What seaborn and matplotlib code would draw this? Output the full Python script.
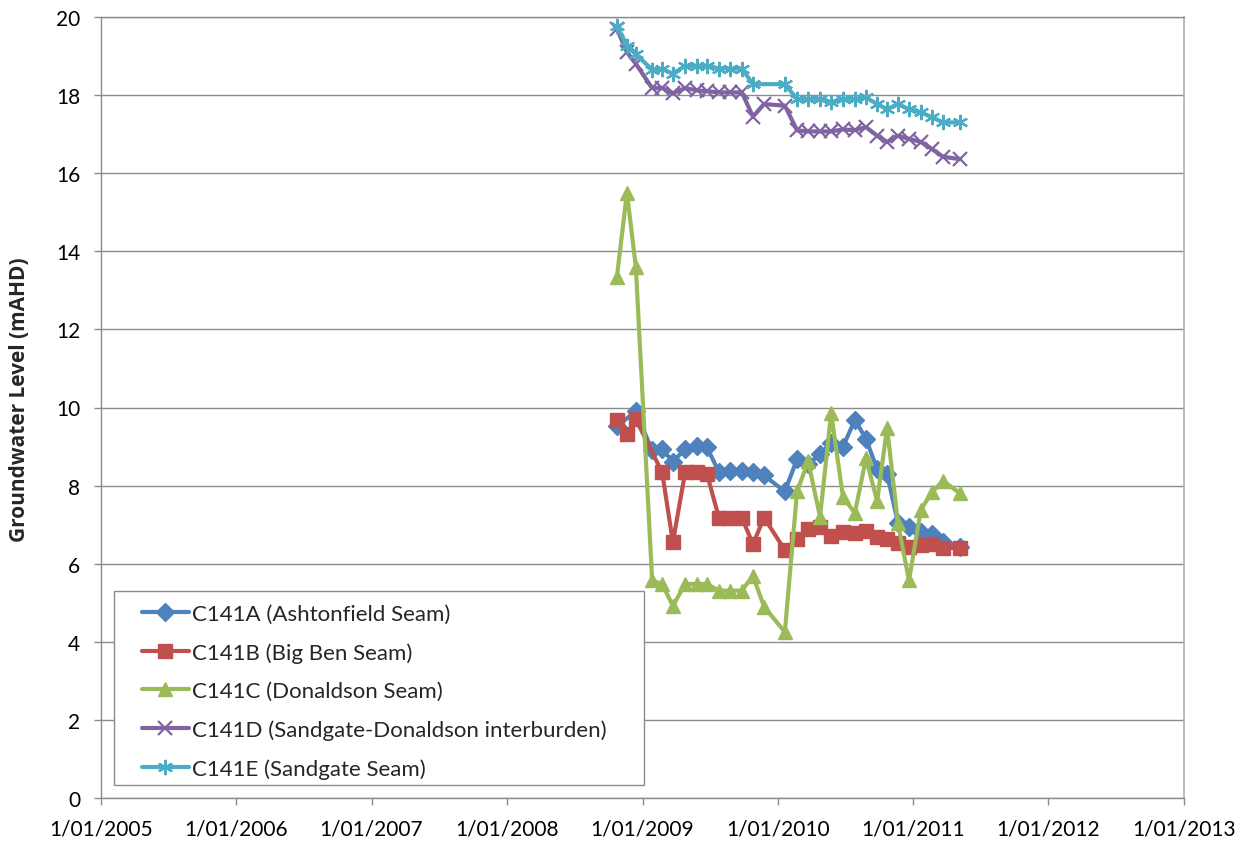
import matplotlib
matplotlib.use("Agg")
import matplotlib.pyplot as plt
from matplotlib.patches import Rectangle
import numpy as np
import pandas as pd
import seaborn as sns

# Sampling dates (roughly monthly monitoring rounds)
dates_all = ["2008-10-24", "2008-11-20", "2008-12-14", "2009-01-27", "2009-02-23",
             "2009-03-24", "2009-04-26", "2009-05-28", "2009-06-24", "2009-07-26",
             "2009-08-25", "2009-09-26", "2009-10-26", "2009-11-25", "2010-01-20",
             "2010-02-22", "2010-03-24", "2010-04-25", "2010-05-25", "2010-06-26",
             "2010-07-28", "2010-08-27", "2010-09-26", "2010-10-23", "2010-11-21",
             "2010-12-21", "2011-01-22", "2011-02-21", "2011-03-23", "2011-05-08"]

dates_a = [d for i, d in enumerate(dates_all) if i != 1]
dates_b = [d for i, d in enumerate(dates_all) if i != 3]
dates_c = dates_all
dates_d = dates_all
dates_e = [d for i, d in enumerate(dates_all) if i != 13]

level_a = [9.52, 9.90, 8.90, 8.95, 8.60, 8.95, 9.02, 8.98, 8.35, 8.38, 8.38, 8.34,
           8.26, 7.85, 8.68, 8.55, 8.80, 9.10, 9.00, 9.68, 9.20, 8.42, 8.30, 7.05,
           6.93, 6.80, 6.75, 6.55, 6.42]
level_b = [9.68, 9.32, 9.70, 8.34, 6.55, 8.34, 8.34, 8.30, 7.18, 7.18, 7.18, 6.50,
           7.18, 6.35, 6.63, 6.90, 6.93, 6.70, 6.82, 6.78, 6.85, 6.68, 6.62, 6.53,
           6.42, 6.47, 6.50, 6.40, 6.40]
level_c = [13.35, 15.50, 13.60, 5.57, 5.48, 4.92, 5.48, 5.48, 5.48, 5.31, 5.31, 5.31,
           5.69, 4.90, 4.25, 7.85, 8.62, 7.20, 9.85, 7.70, 7.30, 8.70, 7.60, 9.48,
           7.05, 5.57, 7.38, 7.83, 8.12, 7.80]
level_d = [19.70, 19.10, 18.80, 18.18, 18.18, 18.05, 18.18, 18.12, 18.10, 18.07, 18.07,
           18.07, 17.45, 17.77, 17.73, 17.10, 17.07, 17.07, 17.07, 17.12, 17.10, 17.18,
           16.96, 16.80, 16.96, 16.88, 16.80, 16.62, 16.42, 16.36]
level_e = [19.77, 19.27, 19.05, 18.65, 18.67, 18.55, 18.75, 18.75, 18.75, 18.68, 18.68,
           18.68, 18.28, 18.28, 17.90, 17.90, 17.90, 17.82, 17.90, 17.90, 17.94, 17.77,
           17.64, 17.77, 17.64, 17.56, 17.43, 17.30, 17.30]

series_names = ["C141A (Ashtonfield Seam)", "C141B (Big Ben Seam)",
                "C141C (Donaldson Seam)", "C141D (Sandgate-Donaldson interburden)",
                "C141E (Sandgate Seam)"]
series_dates = [dates_a, dates_b, dates_c, dates_d, dates_e]
series_levels = [level_a, level_b, level_c, level_d, level_e]

year_ticks = ["2005-01-01", "2006-01-01", "2007-01-01", "2008-01-01", "2009-01-01",
              "2010-01-01", "2011-01-01", "2012-01-01", "2013-01-01"]
year_labels = ["1/01/2005", "1/01/2006", "1/01/2007", "1/01/2008", "1/01/2009",
               "1/01/2010", "1/01/2011", "1/01/2012", "1/01/2013"]
y_ticks = [0, 2, 4, 6, 8, 10, 12, 14, 16, 18, 20]

colors = ["#4F81BD", "#C0504D", "#9BBB59", "#8064A2", "#4BACC6"]
markers = ["D", "s", "^", "x", (6, 2, 0)]
msizes = [9.5, 9.5, 10.5, 9.5, 11]
medge = [1, 1, 1, 1.6, 1.6]

sns.set_theme(style="white")
plt.rcParams["font.family"] = ["Lato", "DejaVu Sans"]

fig = plt.figure(figsize=(12.47, 8.45), dpi=100)
ax = fig.add_axes([101 / 1247, 1 - 799 / 845, (1184 - 101) / 1247, (799 - 18) / 845])

frames = []
for name, d, v in zip(series_names, series_dates, series_levels):
    frames.append(pd.DataFrame({"date": pd.to_datetime(d), "level": v, "well": name}))
df = pd.concat(frames, ignore_index=True)

for name, col, mk, ms, mew in zip(series_names, colors, markers, msizes, medge):
    sub = df[df["well"] == name]
    sns.lineplot(data=sub, x="date", y="level", ax=ax, color=col, lw=3.0,
                 marker=mk, markersize=ms, markeredgecolor=col, markerfacecolor=col,
                 markeredgewidth=mew, label=name, sort=False, estimator=None)

ax.set_xlim(pd.Timestamp(year_ticks[0]), pd.Timestamp(year_ticks[-1]))
ax.set_ylim(0, 20)
ax.set_xticks(pd.to_datetime(year_ticks))
ax.set_xticklabels(year_labels)
ax.set_yticks(y_ticks)
ax.set_yticklabels([str(t) for t in y_ticks])

grid_col = "#8c8c8c"
ax.yaxis.grid(True, color=grid_col, lw=1.0)
ax.xaxis.grid(False)
ax.set_axisbelow(True)
for s in ["left", "bottom", "top"]:
    ax.spines[s].set_color(grid_col)
    ax.spines[s].set_linewidth(1.0)
ax.spines["right"].set_color("#b0b0b0")
ax.spines["right"].set_linewidth(1.2)

ax.tick_params(axis="both", which="major", direction="out", length=5, width=1.0,
               color=grid_col, labelsize=15, labelcolor="black", pad=10)
ax.tick_params(axis="x", bottom=True)
ax.tick_params(axis="y", left=True)

ax.set_xlabel("")
ax.set_ylabel("Groundwater Level (mAHD)", fontsize=15, fontweight="bold",
              family=["Open Sans", "DejaVu Sans"])
ax.yaxis.set_label_coords(-0.066, 0.511)

# Legend entries without their own frame; a plain box is drawn behind them
leg = ax.legend(loc="center left", bbox_to_anchor=(0.0379, 0.1364), borderaxespad=0,
                fontsize=16, frameon=False, handlelength=2.1, handletextpad=0.15,
                labelspacing=0.82, borderpad=0.0)
leg.set_zorder(6)
box = Rectangle((0.0120, 0.01665), 0.4894, 0.2484, transform=ax.transAxes,
                facecolor="white", edgecolor=grid_col, lw=1.0, zorder=5.5)
ax.add_patch(box)

fig.savefig("out.png", dpi=100, facecolor="white")
